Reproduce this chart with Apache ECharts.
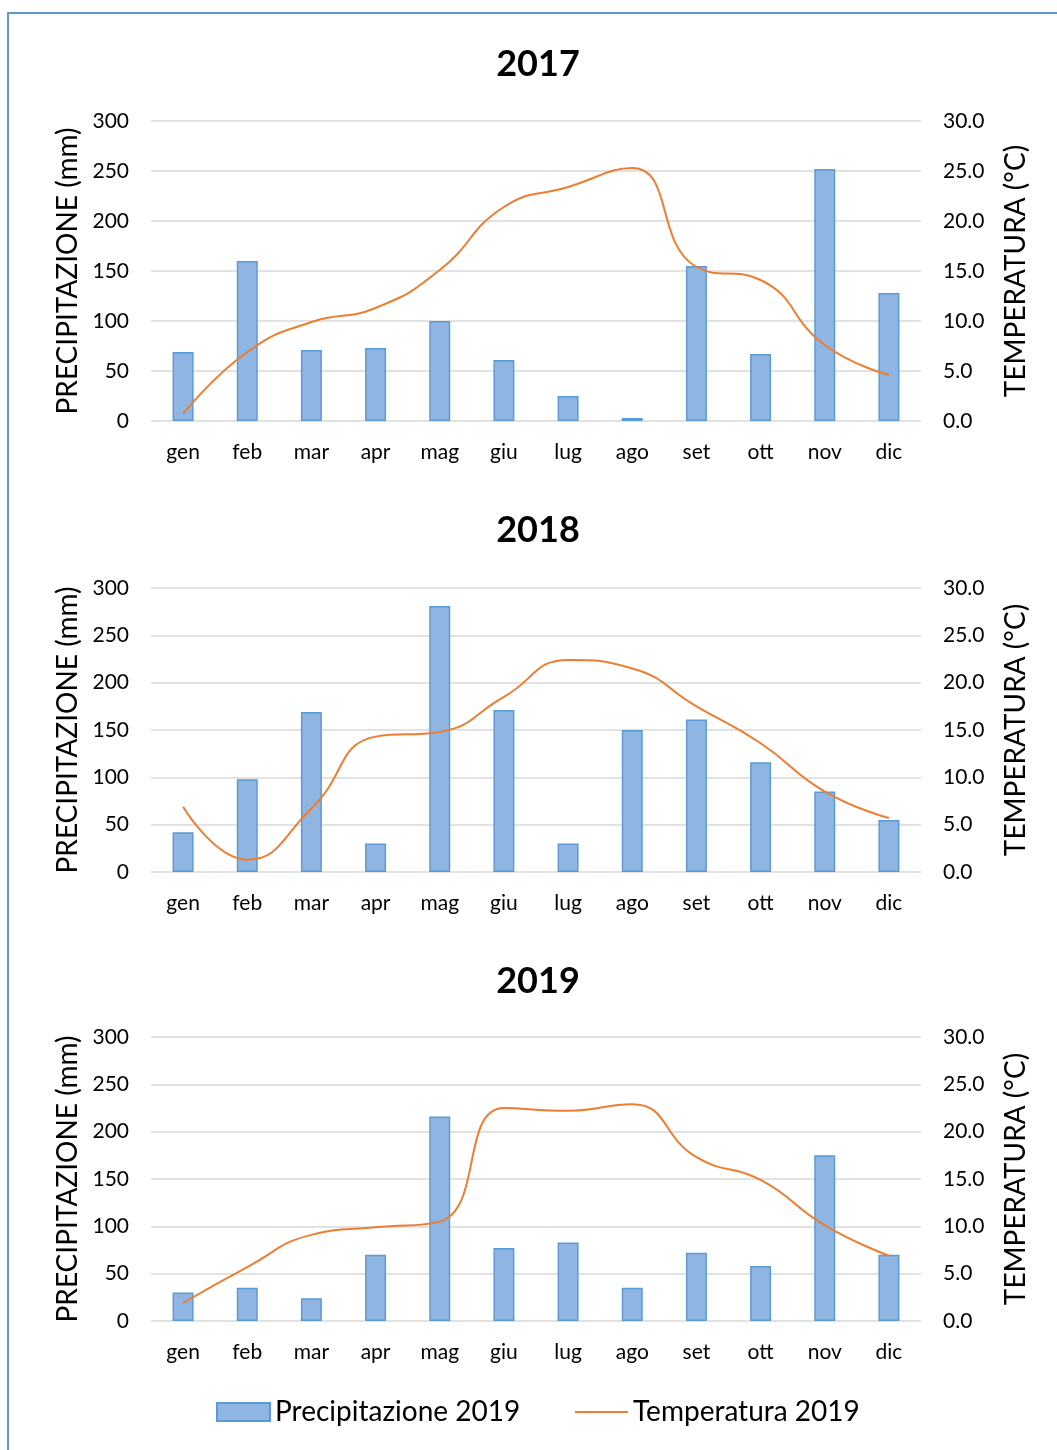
<!DOCTYPE html>
<html>
<head>
<meta charset="utf-8">
<title>Precipitazione e temperatura 2017-2019</title>
<script src="https://cdn.jsdelivr.net/npm/echarts@6/dist/echarts.min.js"></script>
<style>
    html, body { margin: 0; padding: 0; background: #fff; }
    #main { width: 1057px; height: 1450px; }
</style>
</head>
<body>
<div id="main"></div>
<script>
// mesi (asse x)
var mesi = ['gen', 'feb', 'mar', 'apr', 'mag', 'giu', 'lug', 'ago', 'set', 'ott', 'nov', 'dic'];
var anni = ['2017', '2018', '2019'];

// precipitazione (mm)
var prec2017 = [69, 160, 71, 73, 100, 61, 25, 3, 155, 67, 252, 128];
var prec2018 = [42, 98, 169, 30, 281, 171, 30, 150, 161, 116, 85, 55];
var prec2019 = [30, 35, 24, 70, 216, 77, 83, 35, 72, 58, 175, 70];

// temperatura (°C)
var temp2017 = [0.7, 6.9, 9.9, 11.3, 15.1, 21.4, 23.4, 25.3, 15.4, 14.1, 7.6, 4.6];
var temp2018 = [6.9, 1.3, 6.7, 14.3, 14.8, 18.5, 22.4, 21.5, 17.5, 13.6, 8.5, 5.7];
var temp2019 = [1.9, 5.7, 9.1, 9.9, 10.5, 22.5, 22.2, 22.9, 17.3, 14.9, 10.1, 6.9];

var precTutte = [prec2017, prec2018, prec2019];
var tempTutte = [temp2017, temp2018, temp2019];

var FONT = 'Lato, "Open Sans", sans-serif';
var BLU = '#5B9BD5', BLU_CHIARO = '#8FB5E3', ARANCIO = '#ED7D31', GRIGIO = '#D9D9D9';

// posizione dei tre grafici
var griglie = [
    {top: 121, height: 300, titolo: 46},
    {top: 588, height: 284, titolo: 512},
    {top: 1037, height: 284, titolo: 963}
];

var chart = echarts.init(document.getElementById('main'));

var title = [], grid = [], xAxis = [], yAxis = [], series = [];
griglie.forEach(function(g, i){
    title.push({
        text: anni[i],
        left: 538, top: g.titolo, textAlign: 'center', padding: 0,
        textStyle: {fontFamily: FONT, fontSize: 36, fontWeight: 'bold', color: '#000'}
    });
    grid.push({left: 151, right: 136, top: g.top, height: g.height});
    xAxis.push({
        type: 'category', gridIndex: i, data: mesi,
        axisLine: {show: false}, axisTick: {show: false},
        axisLabel: {color: '#000', fontFamily: FONT, fontSize: 21, margin: 21}
    });
    yAxis.push({
        type: 'value', gridIndex: i, min: 0, max: 300, interval: 50,
        name: 'PRECIPITAZIONE (mm)', nameLocation: 'middle', nameRotate: 90, nameGap: 69,
        nameTextStyle: {color: '#000', fontFamily: FONT, fontSize: 28},
        axisLine: {show: false}, axisTick: {show: false},
        axisLabel: {color: '#000', fontFamily: FONT, fontSize: 21, margin: 22},
        splitLine: {lineStyle: {color: GRIGIO, width: 1.5}}
    });
    yAxis.push({
        type: 'value', gridIndex: i, position: 'right', min: 0, max: 30, interval: 5,
        name: 'TEMPERATURA (°C)', nameLocation: 'middle', nameRotate: 90, nameGap: 81,
        nameTextStyle: {color: '#000', fontFamily: FONT, fontSize: 28},
        axisLine: {show: false}, axisTick: {show: false},
        axisLabel: {color: '#000', fontFamily: FONT, fontSize: 21, margin: 22,
            formatter: function(v){ return v.toFixed(1); }},
        splitLine: {show: false}
    });
    series.push({
        name: 'Precipitazione ' + anni[i], type: 'bar',
        xAxisIndex: i, yAxisIndex: i * 2, barWidth: 21,
        itemStyle: {color: BLU_CHIARO, borderColor: BLU, borderWidth: 1.5},
        data: precTutte[i]
    });
    series.push({
        name: 'Temperatura ' + anni[i], type: 'line',
        xAxisIndex: i, yAxisIndex: i * 2 + 1,
        smooth: 0.5, symbol: 'none',
        lineStyle: {color: ARANCIO, width: 2},
        itemStyle: {color: ARANCIO},
        data: tempTutte[i]
    });
});

var legendText = {color: '#000', fontFamily: FONT, fontSize: 28};

var option = {
    animation: false,
    backgroundColor: '#fff',
    title: title,
    grid: grid,
    xAxis: xAxis,
    yAxis: yAxis,
    series: series,
    // due legende: il riquadro della barra e la linea sottile
    legend: [{
        data: ['Precipitazione 2019'],
        left: 216, top: 1398, padding: 0,
        icon: 'rect', itemWidth: 53, itemHeight: 18, textStyle: legendText
    }, {
        data: ['Temperatura 2019'],
        left: 575, top: 1398, padding: 0,
        icon: 'rect', itemWidth: 53, itemHeight: 2, textStyle: legendText
    }],
    // cornice azzurra
    graphic: [{
        type: 'rect',
        shape: {x: 8, y: 13, width: 1080, height: 1460},
        style: {fill: 'none', stroke: BLU, lineWidth: 2}
    }]
};
chart.setOption(option);
</script>
</body>
</html>
